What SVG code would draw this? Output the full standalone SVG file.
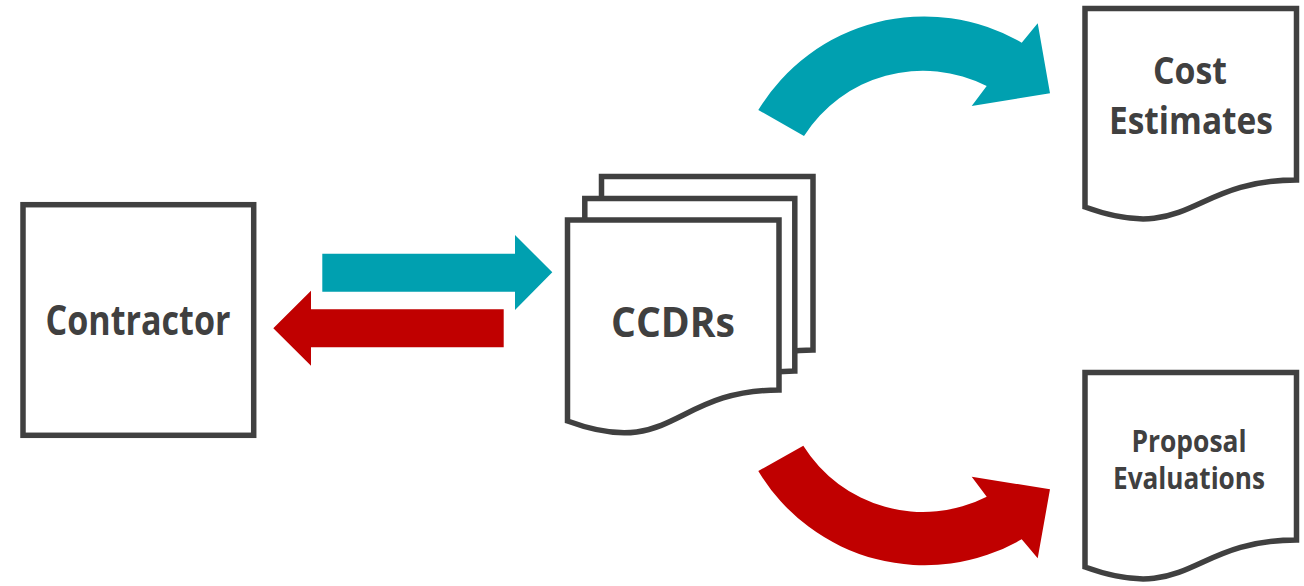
<svg xmlns="http://www.w3.org/2000/svg" width="1304" height="586" viewBox="0 0 1304 586">
<style>
.box{fill:#fff;stroke:#404040;stroke-width:5.5;stroke-linejoin:miter}
.t{font-family:"Open Sans","Liberation Sans",sans-serif;font-weight:bold;fill:#404040;text-anchor:middle}
.teal{fill:#00A0B0}
.red{fill:#C00000}
</style>
<rect width="1304" height="586" fill="#fff"/>
<g id="contractor">
<rect class="box" x="23" y="204.7" width="230.7" height="230.6"/>
<text class="t" x="138" y="335" font-size="42" textLength="185" lengthAdjust="spacingAndGlyphs">Contractor</text>
</g>
<g id="ccdrs">
<path class="box" d="M601.5,176.5 H813 V350 C707,350 707,420 601.5,380 Z"/>
<path class="box" d="M584.8,198.5 H794.8 V371 C690,371 690,441 584.8,401 Z"/>
<path class="box" d="M567.5,220 H779 V390 C673,390 673,460 567.5,421 Z"/>
<text class="t" x="673" y="337" font-size="42" textLength="124" lengthAdjust="spacingAndGlyphs">CCDRs</text>
</g>
<g id="cost-estimates">
<path class="box" d="M1085,8.5 H1296.5 V180 C1190,180 1190,245 1085,207 Z"/>
<text class="t" x="1190" y="83.5" font-size="38" textLength="74" lengthAdjust="spacingAndGlyphs">Cost</text>
<text class="t" x="1191" y="133.5" font-size="38" textLength="164" lengthAdjust="spacingAndGlyphs">Estimates</text>
</g>
<g id="proposal-evaluations">
<path class="box" d="M1085,372.5 H1296.5 V540 C1190,540 1190,605 1085,567 Z"/>
<text class="t" x="1189" y="451.5" font-size="29.5" textLength="115" lengthAdjust="spacingAndGlyphs">Proposal</text>
<text class="t" x="1189" y="488.5" font-size="29.5" textLength="152" lengthAdjust="spacingAndGlyphs">Evaluations</text>
</g>
<g id="connectors">
<path class="teal" d="M322.3,253.7 H515 V235 L552.3,272.3 L515,310 V291.7 H322.3 Z"/>
<path class="red" d="M503.7,309.3 H311 V290.7 L273.3,328.3 L311,365.7 V347.3 H503.7 Z"/>
<path class="teal" d="M758.3,110 A194 194 0 0 1 1021.7,42.7 L1037.7,23.3 L1050,93.3 L971.7,106 L986.7,86 A141 141 0 0 0 804,136 Z"/>
<path class="red" d="M758.3,471 A194 194 0 0 0 1021.7,539.3 L1037.7,558.3 L1050,489.3 L971.7,476.7 L986.7,496.7 A141 141 0 0 1 803.3,445.7 Z"/>
</g>
</svg>
